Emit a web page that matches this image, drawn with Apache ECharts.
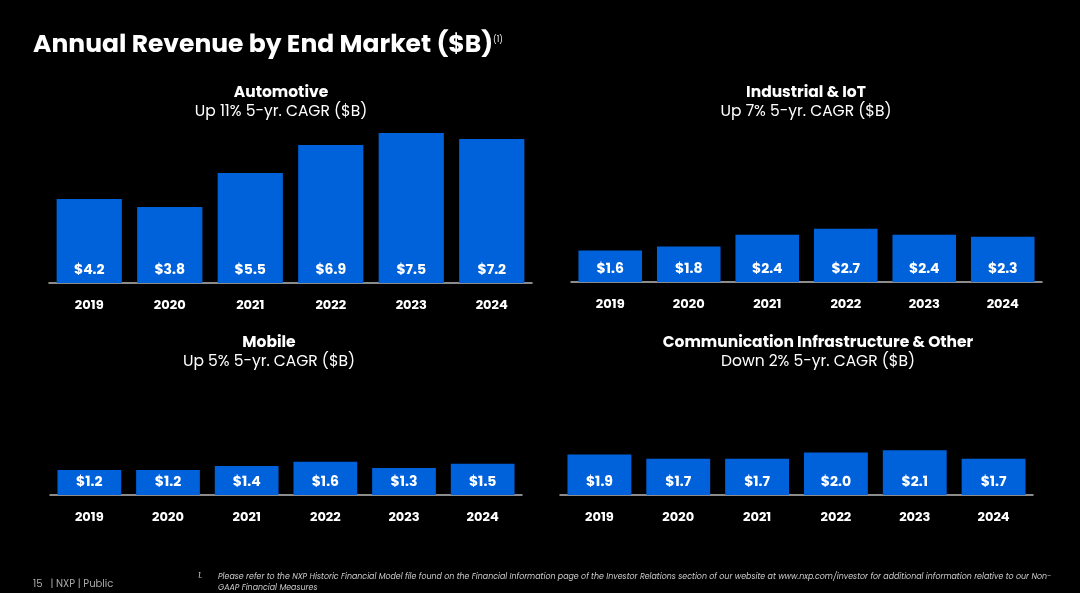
<!DOCTYPE html><html><head><meta charset="utf-8"><script src="https://cdn.jsdelivr.net/npm/echarts@6/dist/echarts.min.js"></script>
<style>html,body{margin:0;background:#000}#c{width:1080px;height:593px}</style></head><body><div id="c"></div><script>
const years=['2019','2020','2021','2022','2023','2024'];
const automotive=[4.2,3.8,5.5,6.9,7.5,7.2];
const industrial=[1.6,1.8,2.4,2.7,2.4,2.3];
const mobile=[1.2,1.2,1.4,1.6,1.3,1.5];
const comm=[1.9,1.7,1.7,2.0,2.1,1.7];
const panels=[
 {data:automotive,left:49,width:483,bottom:283,max:7.5,px:20},
 {data:industrial,left:571,width:471,bottom:282,max:7.5,px:19.7},
 {data:mobile,left:50,width:472,bottom:495,max:7.5,px:20.8},
 {data:comm,left:560,width:473,bottom:495,max:7.5,px:21.3}];
const F='Poppins, "Open Sans", Lato, sans-serif';
const grid=[],xAxis=[],yAxis=[],series=[];
panels.forEach((p,i)=>{
 const h=p.max*p.px;
 grid.push({left:p.left,width:p.width,top:p.bottom-h,height:h});
 xAxis.push({type:'category',gridIndex:i,data:years,axisTick:{show:false},axisLine:{lineStyle:{color:'#bbbbbb',width:1.5}},
  axisLabel:{color:'#fff',fontWeight:'bold',fontSize:13,fontFamily:F,margin:16}});
 yAxis.push({type:'value',gridIndex:i,min:0,max:p.max,show:false,splitLine:{show:false}});
 series.push({type:'bar',xAxisIndex:i,yAxisIndex:i,data:p.data,barCategoryGap:'19%',itemStyle:{color:'#0062DB'},
  label:{show:true,position:'insideBottom',distance:6,color:'#fff',fontWeight:'bold',fontSize:14,fontFamily:F,formatter:v=>'$'+v.value.toFixed(1)}});
});
const graphic=[
 {type:'text',x:33,y:33,style:{text:'Annual Revenue by End Market ($B)',fill:'#fff',font:'bold 25px '+F}},
 {type:'text',x:493,y:36,style:{text:'(1)',fill:'#fff',font:'8px '+F}},
 {type:'text',x:281,y:85,style:{text:'Automotive',fill:'#fff',font:'bold 15.5px '+F,align:'center'}},
 {type:'text',x:281,y:104,style:{text:'Up 11% 5-yr. CAGR ($B)',fill:'#fff',font:'15.5px '+F,align:'center'}},
 {type:'text',x:806,y:85,style:{text:'Industrial & IoT',fill:'#fff',font:'bold 15.5px '+F,align:'center'}},
 {type:'text',x:806,y:104,style:{text:'Up 7% 5-yr. CAGR ($B)',fill:'#fff',font:'15.5px '+F,align:'center'}},
 {type:'text',x:269,y:335,style:{text:'Mobile',fill:'#fff',font:'bold 15.5px '+F,align:'center'}},
 {type:'text',x:269,y:354,style:{text:'Up 5% 5-yr. CAGR ($B)',fill:'#fff',font:'15.5px '+F,align:'center'}},
 {type:'text',x:818,y:335,style:{text:'Communication Infrastructure & Other',fill:'#fff',font:'bold 15.5px '+F,align:'center'}},
 {type:'text',x:818,y:354,style:{text:'Down 2% 5-yr. CAGR ($B)',fill:'#fff',font:'15.5px '+F,align:'center'}},
 {type:'text',x:33,y:579,style:{text:'15   | NXP | Public',fill:'#aaaaaa',font:'10px '+F}},
 {type:'text',x:198,y:572,style:{text:'1.',fill:'#cccccc',font:'italic 8px '+F}},
 {type:'text',x:218,y:572,style:{text:'Please refer to the NXP Historic Financial Model file found on the Financial Information page of the Investor Relations section of our website at www.nxp.com/investor for additional information relative to our Non-\nGAAP Financial Measures',fill:'#cccccc',font:'italic 7.9px '+F,lineHeight:11}}
];
const c=echarts.init(document.getElementById('c'));
c.setOption({backgroundColor:'#000',animation:false,grid,xAxis,yAxis,series,graphic});
</script></body></html>
